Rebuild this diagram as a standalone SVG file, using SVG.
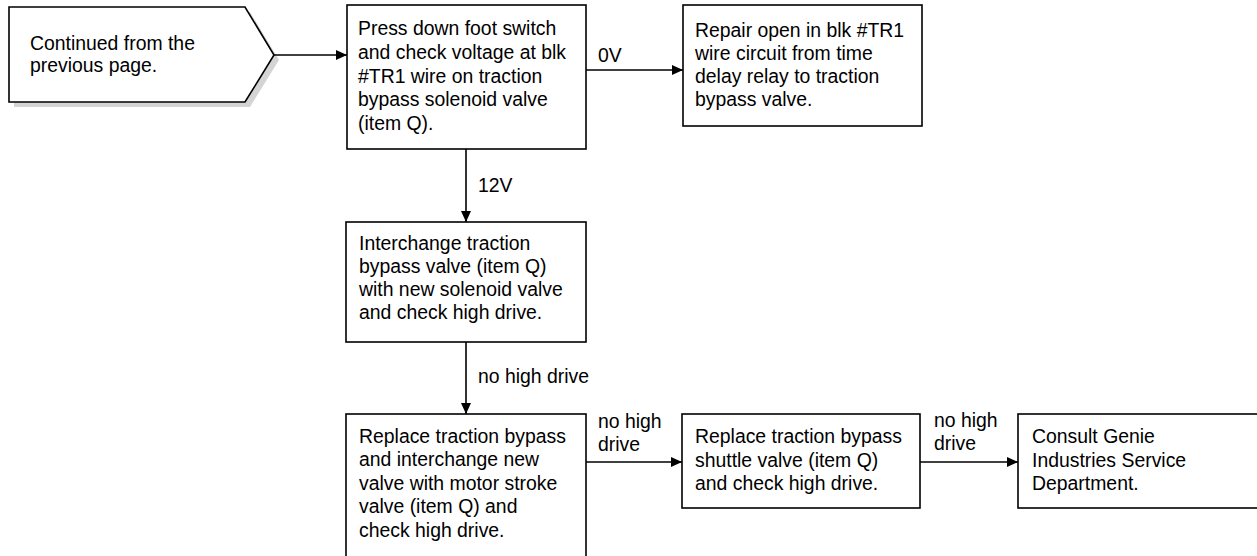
<svg xmlns="http://www.w3.org/2000/svg" width="1257" height="556" viewBox="0 0 1257 556">
<defs>
<marker id="ah" markerWidth="12" markerHeight="10" refX="11" refY="5" orient="auto" markerUnits="userSpaceOnUse">
<path d="M0,0 L11,5 L0,10 Z" fill="#000"/>
</marker>
<style>
.box{fill:#fff;stroke:#000;stroke-width:1.6}
.t{font-family:"Liberation Sans",Arial,Helvetica,sans-serif;font-size:19.4px;fill:#000}
.c{fill:none;stroke:#000;stroke-width:1.6;marker-end:url(#ah)}
</style>
</defs>
<rect width="1257" height="556" fill="#fff"/>
<g id="start">
<polygon points="14,12 250,12 279,60 250,107 14,107" fill="#d4d4d4"/>
<polygon class="box" points="9,7 245,7 274,55 245,102 9,102"/>
<text class="t" x="30" y="50">Continued from the</text>
<text class="t" x="30" y="72">previous page.</text>
</g>
<g id="n1">
<rect class="box" x="347" y="5" width="239" height="144"/>
<text class="t" x="358" y="35">Press down foot switch</text>
<text class="t" x="358" y="59">and check voltage at blk</text>
<text class="t" x="358" y="83">#TR1 wire on traction</text>
<text class="t" x="358" y="106">bypass solenoid valve</text>
<text class="t" x="358" y="130">(item Q).</text>
</g>
<g id="n2">
<rect class="box" x="683" y="5" width="239" height="121"/>
<text class="t" x="695" y="37">Repair open in blk #TR1</text>
<text class="t" x="695" y="60">wire circuit from time</text>
<text class="t" x="695" y="83">delay relay to traction</text>
<text class="t" x="695" y="106">bypass valve.</text>
</g>
<g id="n3">
<rect class="box" x="346" y="222" width="240" height="120"/>
<text class="t" x="359" y="250">Interchange traction</text>
<text class="t" x="359" y="273">bypass valve (item Q)</text>
<text class="t" x="359" y="296">with new solenoid valve</text>
<text class="t" x="359" y="319">and check high drive.</text>
</g>
<g id="n4">
<rect class="box" x="346" y="414" width="240" height="150"/>
<text class="t" x="359" y="443">Replace traction bypass</text>
<text class="t" x="359" y="466">and interchange new</text>
<text class="t" x="359" y="490">valve with motor stroke</text>
<text class="t" x="359" y="513">valve (item Q) and</text>
<text class="t" x="359" y="537">check high drive.</text>
</g>
<g id="n5">
<rect class="box" x="682" y="414" width="238" height="94"/>
<text class="t" x="695" y="443">Replace traction bypass</text>
<text class="t" x="695" y="467">shuttle valve (item Q)</text>
<text class="t" x="695" y="490">and check high drive.</text>
</g>
<g id="n6">
<rect class="box" x="1018" y="414" width="250" height="94"/>
<text class="t" x="1032" y="443">Consult Genie</text>
<text class="t" x="1032" y="467">Industries Service</text>
<text class="t" x="1032" y="490">Department.</text>
</g>
<g id="connectors">
<line class="c" x1="274" y1="55" x2="347" y2="55"/>
<line class="c" x1="586" y1="70" x2="683" y2="70"/>
<line class="c" x1="466" y1="149" x2="466" y2="222"/>
<line class="c" x1="466" y1="342" x2="466" y2="414"/>
<line class="c" x1="586" y1="462" x2="682" y2="462"/>
<line class="c" x1="920" y1="462" x2="1018" y2="462"/>
<text class="t" x="598" y="62">0V</text>
<text class="t" x="478" y="192">12V</text>
<text class="t" x="478" y="383">no high drive</text>
<text class="t" x="598" y="428">no high</text>
<text class="t" x="598" y="451">drive</text>
<text class="t" x="934" y="427">no high</text>
<text class="t" x="934" y="450">drive</text>
</g>
</svg>
